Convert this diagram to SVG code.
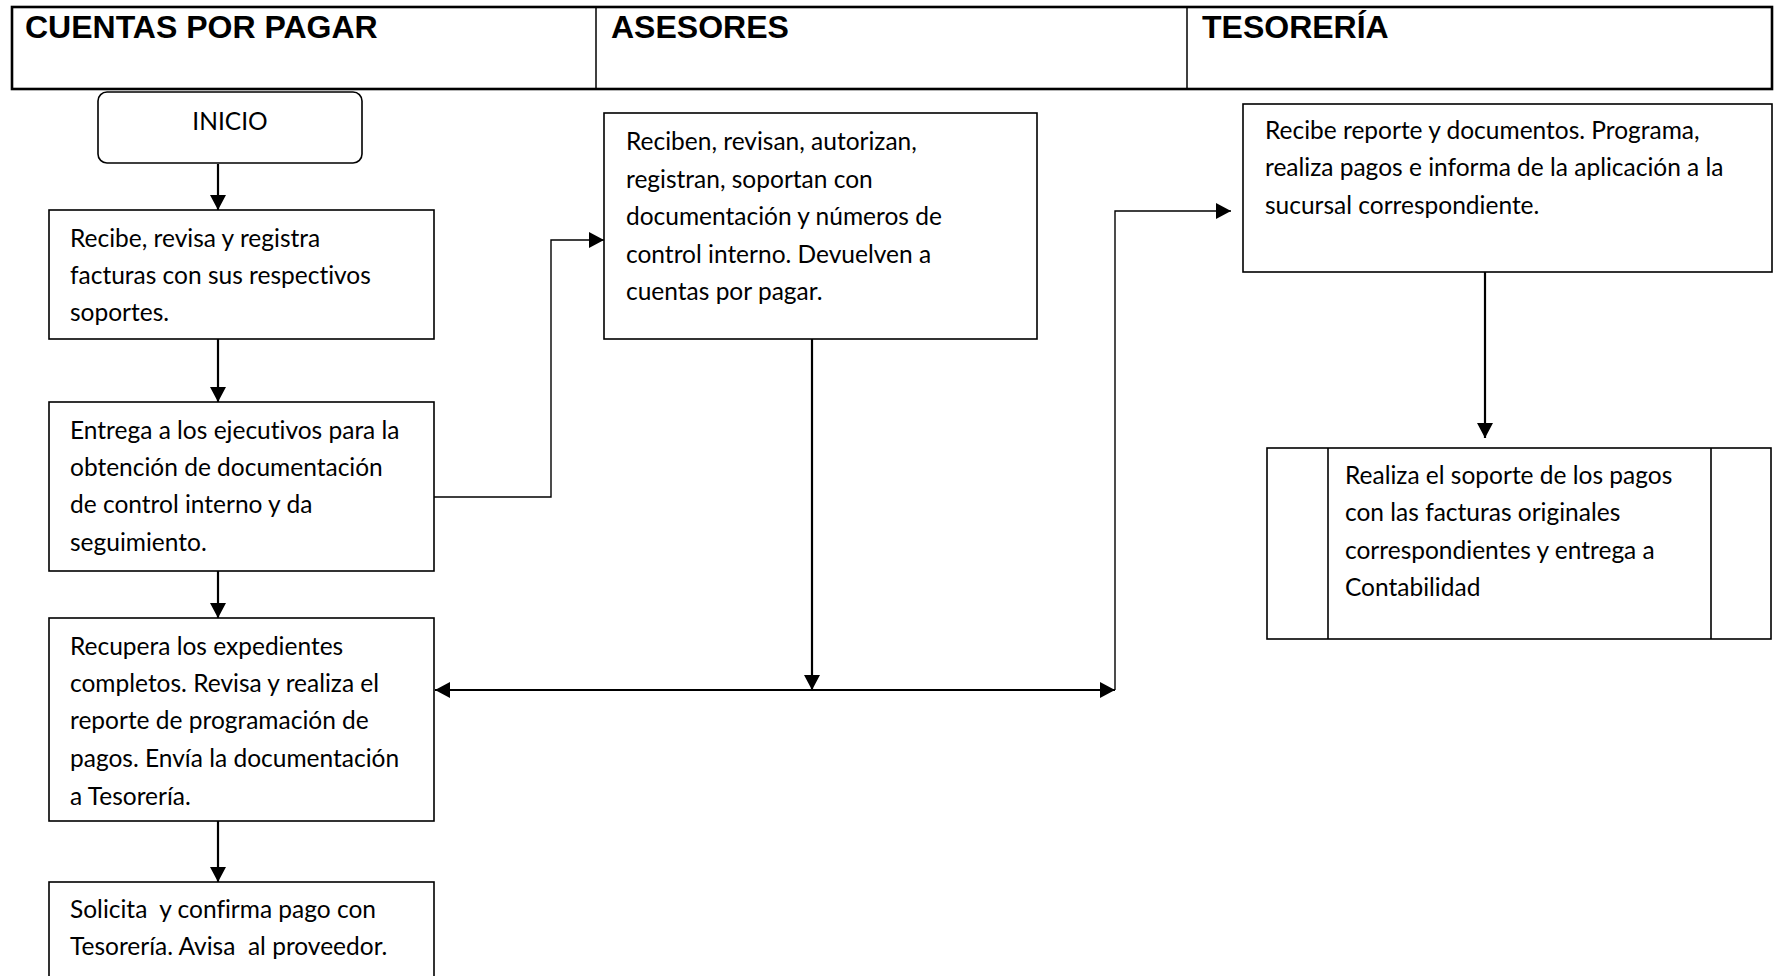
<svg xmlns="http://www.w3.org/2000/svg" width="1774" height="976" viewBox="0 0 1774 976">
<style>
.hdr{font-family:"Liberation Sans",Arial,sans-serif;font-weight:bold;font-size:32px;fill:#000}
.t{font-family:Lato,"Open Sans",sans-serif;font-size:24.5px;fill:#000;white-space:pre;font-variant-ligatures:none;font-feature-settings:"liga" 0}
.box{fill:#fff;stroke:#000;stroke-width:1.6}
.ln{fill:none;stroke:#000;stroke-width:2.2}
.thin{fill:none;stroke:#000;stroke-width:1.4}
</style>
<defs>
<marker id="ah" markerUnits="userSpaceOnUse" markerWidth="16" markerHeight="17" refX="15" refY="8.5" orient="auto-start-reverse" viewBox="0 0 16 17">
<path d="M0,0.5 L15,8.5 L0,16.5 z" fill="#000"/>
</marker>
</defs>
<rect width="1774" height="976" fill="#fff"/>
<g id="header">
<rect x="12" y="7" width="1760" height="82" fill="none" stroke="#000" stroke-width="2.6"/>
<line x1="596" y1="7" x2="596" y2="89" stroke="#000" stroke-width="1.5"/>
<line x1="1187" y1="7" x2="1187" y2="89" stroke="#000" stroke-width="1.5"/>
<text class="hdr" x="25" y="38">CUENTAS POR PAGAR</text>
<text class="hdr" x="611" y="38">ASESORES</text>
<text class="hdr" x="1202" y="38">TESORERÍA</text>
</g>
<g id="connectors">
<path class="ln" d="M218 164 V210" marker-end="url(#ah)"/>
<path class="ln" d="M218 339 V402" marker-end="url(#ah)"/>
<path class="ln" d="M218 571 V618" marker-end="url(#ah)"/>
<path class="ln" d="M218 821 V882" marker-end="url(#ah)"/>
<path class="thin" d="M434 497 H551 V240 H604" marker-end="url(#ah)"/>
<path class="ln" d="M812 339 V690" marker-end="url(#ah)"/>
<path class="ln" d="M435 690 H1115" marker-start="url(#ah)" marker-end="url(#ah)"/>
<path class="thin" d="M1115 690 V211 H1231" marker-end="url(#ah)"/>
<path class="ln" d="M1485 272 V438" marker-end="url(#ah)"/>
</g>
<g id="inicio">
<rect class="box" x="98" y="92" width="264" height="71" rx="9"/>
<text class="t" x="230" y="130" text-anchor="middle">INICIO</text>
</g>
<g id="recibe">
<rect class="box" x="49" y="210" width="385" height="129"/>
<text class="t"><tspan x="70" y="247">Recibe, revisa y registra</tspan><tspan x="70" y="284">facturas con sus respectivos</tspan><tspan x="70" y="321">soportes.</tspan></text>
</g>
<g id="entrega">
<rect class="box" x="49" y="402" width="385" height="169"/>
<text class="t"><tspan x="70" y="439">Entrega a los ejecutivos para la</tspan><tspan x="70" y="476">obtención de documentación</tspan><tspan x="70" y="513">de control interno y da</tspan><tspan x="70" y="551">seguimiento.</tspan></text>
</g>
<g id="recupera">
<rect class="box" x="49" y="618" width="385" height="203"/>
<text class="t"><tspan x="70" y="655">Recupera los expedientes</tspan><tspan x="70" y="692">completos. Revisa y realiza el</tspan><tspan x="70" y="729">reporte de programación de</tspan><tspan x="70" y="767">pagos. Envía la documentación</tspan><tspan x="70" y="805">a Tesorería.</tspan></text>
</g>
<g id="solicita">
<rect class="box" x="49" y="882" width="385" height="110"/>
<text class="t"><tspan x="70" y="918">Solicita  y confirma pago con</tspan><tspan x="70" y="955">Tesorería. Avisa  al proveedor.</tspan></text>
</g>
<g id="asesores">
<rect class="box" x="604" y="113" width="433" height="226"/>
<text class="t"><tspan x="626" y="150">Reciben, revisan, autorizan,</tspan><tspan x="626" y="188">registran, soportan con</tspan><tspan x="626" y="225">documentación y números de</tspan><tspan x="626" y="263">control interno. Devuelven a</tspan><tspan x="626" y="300">cuentas por pagar.</tspan></text>
</g>
<g id="tesoreria-recibe">
<rect class="box" x="1243" y="104" width="529" height="168"/>
<text class="t"><tspan x="1265" y="139">Recibe reporte y documentos. Programa,</tspan><tspan x="1265" y="176">realiza pagos e informa de la aplicación a la</tspan><tspan x="1265" y="214">sucursal correspondiente.</tspan></text>
</g>
<g id="tesoreria-soporte">
<rect class="box" x="1267" y="448" width="504" height="191"/>
<line x1="1328" y1="448" x2="1328" y2="639" stroke="#000" stroke-width="1.6"/>
<line x1="1711" y1="448" x2="1711" y2="639" stroke="#000" stroke-width="1.6"/>
<text class="t"><tspan x="1345" y="484">Realiza el soporte de los pagos</tspan><tspan x="1345" y="521">con las facturas originales</tspan><tspan x="1345" y="559">correspondientes y entrega a</tspan><tspan x="1345" y="596">Contabilidad</tspan></text>
</g>
</svg>
